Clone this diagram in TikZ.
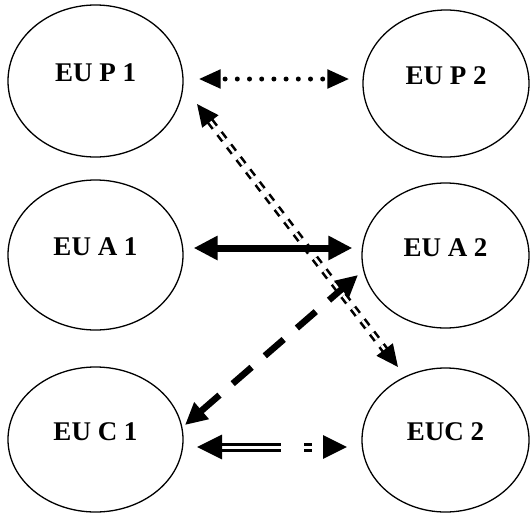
\documentclass[tikz,border=0pt]{standalone}
\usepackage{fontspec}
\setmainfont{Liberation Serif}
\usetikzlibrary{shapes.geometric,arrows.meta}
\begin{document}
\begin{tikzpicture}[x=1pt,y=-1pt,
  eu/.style={draw, ellipse, line width=1.3pt, inner sep=0pt,
    font=\fontsize{27}{32}\selectfont\bfseries, text height=18pt, text depth=17pt},
  dotarrow/.style={{Triangle[length=22pt,width=18pt]}-{Triangle[length=22pt,width=18pt]},
    line width=5pt, line cap=round, dash pattern=on 0pt off 12.2pt, dash phase=6.5pt},
  solidarrow/.style={{Triangle[length=24pt,width=23pt]}-{Triangle[length=24pt,width=23pt]},
    line width=7pt},
  dbldash/.style={{Triangle[length=22pt,width=20pt]}-{Triangle[length=22pt,width=20pt]},
    double, line width=2.6pt, double distance=2.6pt, dash pattern=on 8pt off 7.7pt},
  thickdash/.style={{Triangle[length=22pt,width=21pt]}-{Triangle[length=22pt,width=21pt]},
    line width=6.5pt, dash pattern=on 25pt off 17.5pt},
  dblline/.style={{Triangle[length=25pt,width=24pt]}-{Triangle[length=24pt,width=23pt]},
    double, line width=3pt, double distance=3pt, dash pattern=on 60pt off 23pt on 8pt off 20pt}]
\useasboundingbox (0,0) rectangle (530,512);
\node[eu, minimum width=175pt, minimum height=152pt] (p1) at (95.5,81) {EU P 1};
\node[eu, minimum width=166pt, minimum height=147pt] (p2) at (446,83.5) {EU P 2};
\node[eu, minimum width=175pt, minimum height=150pt] (a1) at (95.5,255) {EU A 1};
\node[eu, minimum width=167pt, minimum height=145pt] (a2) at (445.5,255.5) {EU A 2};
\node[eu, minimum width=175pt, minimum height=145pt] (c1) at (95.5,439.5) {EU C 1};
\node[eu, minimum width=167pt, minimum height=144pt] (c2) at (445.5,440) {EUC 2};
\draw[dbldash] ([xshift=101.5pt,yshift=-23pt]p1.center) -- ([xshift=-47.5pt,yshift=73pt]c2.center);
\draw[dotarrow] ([xshift=15pt,yshift=2pt]p1.east) -- ([xshift=-13pt,yshift=4.5pt]p2.west);
\draw[solidarrow] ([xshift=10pt,yshift=7pt]a1.east) -- ([xshift=-9pt,yshift=7.5pt]a2.west);
\draw[thickdash] ([xshift=89.5pt,yshift=14.5pt]c1.center) -- ([xshift=-87.5pt,yshift=-19.5pt]a2.center);
\draw[dblline] ([xshift=101.5pt,yshift=-7.5pt]c1.center) -- ([xshift=-98.5pt,yshift=-7pt]c2.center);
\end{tikzpicture}
\end{document}
